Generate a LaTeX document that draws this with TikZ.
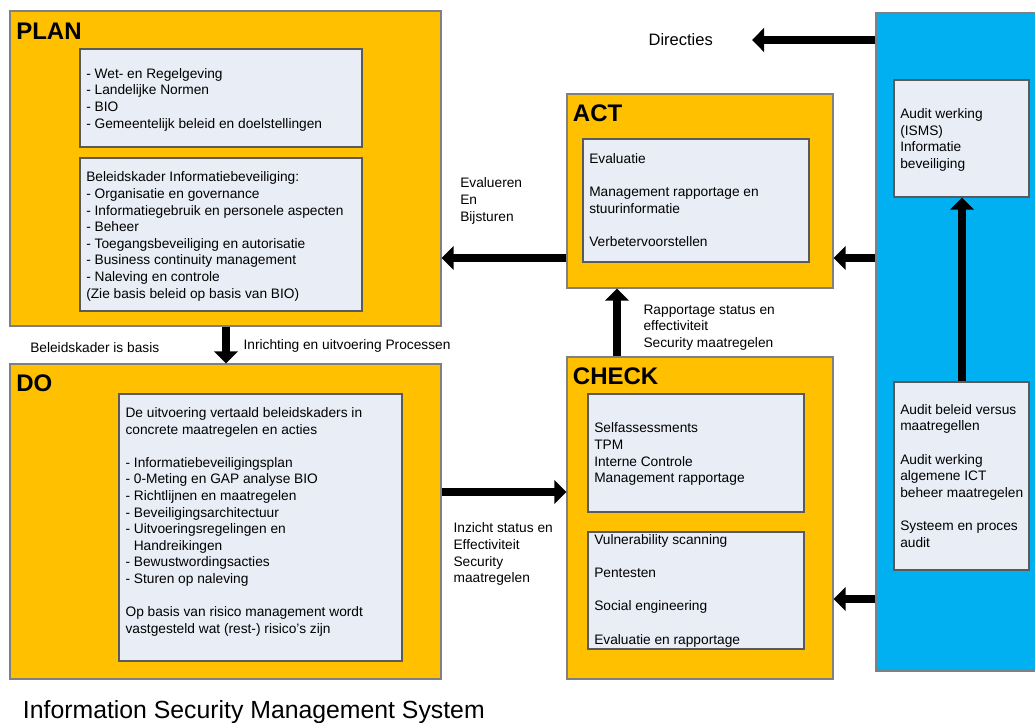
\documentclass[tikz,border=0pt]{standalone}
\usepackage{fontspec}
\setmainfont{Liberation Sans}
\usetikzlibrary{arrows.meta,fit}
\definecolor{phaseC}{HTML}{FFC000}
\definecolor{auditC}{HTML}{00B0F0}
\definecolor{innerC}{HTML}{E9EDF6}
\definecolor{edgeC}{HTML}{808080}
\definecolor{inedgeC}{HTML}{5A5A5A}
\newcommand\firstln{\rule{0pt}{0.8em}}
\newcommand\blankln{\mbox{}}
\begin{document}
\begin{tikzpicture}[x=0.75pt,y=-0.75pt,
  phase/.style={fill=phaseC, draw=edgeC, line width=0.9pt, inner sep=0pt},
  auditbg/.style={fill=auditC, draw=edgeC, line width=0.9pt, inner sep=0pt},
  inbox/.style={fill=innerC, draw=inedgeC, line width=0.9pt, inner sep=0pt},
  body/.style={font=\fontsize{10.3}{12.45}\selectfont, align=left, inner sep=0pt, anchor=north west},
  lbl/.style={font=\fontsize{10.3}{12.45}\selectfont, inner sep=0pt, anchor=base west},
  phasetitle/.style={font=\fontsize{18}{20}\selectfont\bfseries, inner sep=0pt, anchor=base west},
  arr/.style={line width=6pt, -{Triangle[length=9pt,width=17.5pt]}}
]
\useasboundingbox (0,0) rectangle (1035,723);
\clip (0,0) rectangle (1035,723);

% guide coordinates for connector positions
\coordinate (yDir) at (0,40);
\coordinate (yAct) at (0,258);
\coordinate (yDo) at (0,492);
\coordinate (yChk) at (0,599);
\coordinate (xPlan) at (226,0);
\coordinate (xChk) at (617,0);
\coordinate (xAud) at (962,0);
\coordinate (dirtip) at (752,40);

% PLAN
\node[phase, fit={(10,11) (441,326)}] (plan) {};
\node[inbox, fit={(80,49) (362,147)}] (planA) {};
\node[inbox, fit={(80,158) (362,311)}] (planB) {};
\node[phasetitle] (planT) at (16,39.3) {PLAN};
\node[body] (planAt) at (86,67) {\firstln- Wet- en Regelgeving\\- Landelijke Normen\\- BIO\\- Gemeentelijk beleid en doelstellingen};
\node[body] (planBt) at (86,170.7) {\firstln Beleidskader Informatiebeveiliging:\\- Organisatie en governance\\- Informatiegebruik en personele aspecten\\- Beheer\\- Toegangsbeveiliging en autorisatie\\- Business continuity management\\- Naleving en controle\\(Zie basis beleid op basis van BIO)};

% DO
\node[phase, fit={(10,364) (441,679)}] (do) {};
\node[inbox, fit={(119,394) (402,661)}] (doA) {};
\node[phasetitle] (doT) at (16,391.7) {DO};
\node[body] (doAt) at (125.3,406.3) {\firstln De uitvoering vertaald beleidskaders in\\concrete maatregelen en acties\\\blankln\\- Informatiebeveiligingsplan\\- 0-Meting en GAP analyse BIO\\- Richtlijnen en maatregelen\\- Beveiligingsarchitectuur\\- Uitvoeringsregelingen en\\\hspace*{0.6em}Handreikingen\\- Bewustwordingsacties\\- Sturen op naleving\\\blankln\\Op basis van risico management wordt\\vastgesteld wat (rest-) risico's zijn};

% ACT
\node[phase, fit={(567,94) (833,288)}] (act) {};
\node[inbox, fit={(583,139) (809,262)}] (actA) {};
\node[phasetitle] (actT) at (572.7,121.7) {ACT};
\node[body] (actAt) at (589,152.3) {\firstln Evaluatie\\\blankln\\Management rapportage en\\stuurinformatie\\\blankln\\Verbetervoorstellen};

% CHECK
\node[phase, fit={(567,357) (833,679)}] (check) {};
\node[inbox, fit={(588,394) (804,512)}] (checkA) {};
\node[inbox, fit={(588,532) (804,649)}] (checkB) {};
\node[phasetitle] (checkT) at (572.7,385) {CHECK};
\node[body] (checkAt) at (594,421.7) {\firstln Selfassessments\\TPM\\Interne Controle\\Management rapportage};
\node[body] (checkBt) at (594,533.3) {\firstln Vulnerability scanning\\\blankln\\Pentesten\\\blankln\\Social engineering\\\blankln\\Evaluatie en rapportage};

% AUDIT panel
\node[auditbg, fit={(876,13) (1045,671)}] (audit) {};
\node[inbox, fit={(894,80) (1029,197)}] (auditA) {};
\node[inbox, fit={(894,382) (1029,570)}] (auditB) {};
\node[body] (auditAt) at (900,107.3) {\firstln Audit werking\\(ISMS)\\Informatie\\beveiliging};
\node[body] (auditBt) at (900,403) {\firstln Audit beleid versus\\maatregellen\\\blankln\\Audit werking\\algemene ICT\\beheer maatregelen\\\blankln\\Systeem en proces\\audit};

% labels
\node[font=\fontsize{12.4}{14}\selectfont, inner sep=0pt, anchor=base west] (dir) at (648.3,45.7) {Directies};
\node[body] (evalL) at (460,176.7) {\firstln Evalueren\\En\\Bijsturen};
\node[body] (rapL) at (643.3,303) {\firstln Rapportage status en\\effectiviteit\\Security maatregelen};
\node[body] (inzL) at (453.3,521.7) {\firstln Inzicht status en\\Effectiviteit\\Security\\maatregelen};
\node[lbl] (basisL) at (30,352.3) {Beleidskader is basis};
\node[lbl] (inrL) at (243.3,350) {Inrichting en uitvoering Processen};
\node[font=\fontsize{18.6}{20}\selectfont, inner sep=0pt, anchor=base west] (ismsT) at (22.7,718) {Information Security Management System};

% connectors
\draw[arr] (audit.west |- yDir) -- (dirtip);
\draw[arr] (act.west |- yAct) -- (plan.east |- yAct);
\draw[arr] (audit.west |- yAct) -- (act.east |- yAct);
\draw[arr] (check.north -| xChk) -- (act.south -| xChk);
\draw[arr] (plan.south -| xPlan) -- (do.north -| xPlan);
\draw[arr] (do.east |- yDo) -- (check.west |- yDo);
\draw[arr] (audit.west |- yChk) -- (check.east |- yChk);
\draw[arr] (auditB.north -| xAud) -- (auditA.south -| xAud);
\end{tikzpicture}
\end{document}
